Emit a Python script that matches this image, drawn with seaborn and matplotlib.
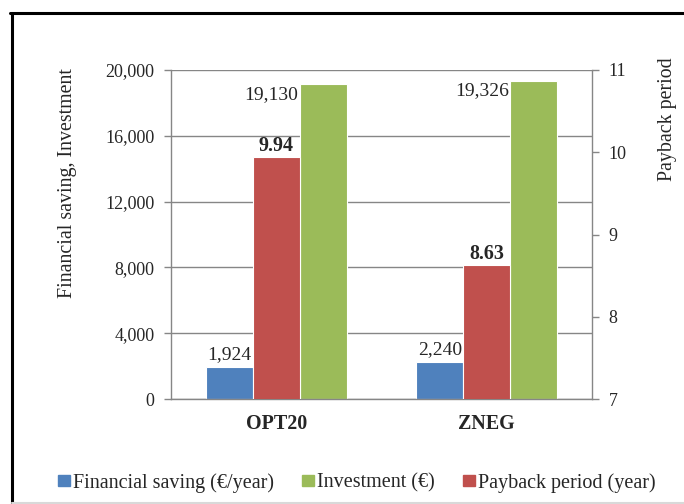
import numpy as np
import pandas as pd
import matplotlib
matplotlib.use("Agg")
import matplotlib.pyplot as plt
import seaborn as sns
from matplotlib.ticker import FuncFormatter
from matplotlib.patches import Patch
from matplotlib.lines import Line2D

# Data
scenarios = ["OPT20", "ZNEG"]
financial_saving = [1924, 2240]      # €/year
investment = [19130, 19326]          # €
payback_period = [9.94, 8.63]        # year

lab_fs = "Financial saving (€/year)"
lab_inv = "Investment (€)"
lab_pb = "Payback period (year)"
hue_order = [lab_fs, lab_pb, lab_inv]
colors = {lab_fs: "#4F81BD", lab_pb: "#C0504D", lab_inv: "#9BBB59"}

# Long table: payback NaN on the left axis, others NaN on the right axis
rows = []
for i, s in enumerate(scenarios):
    rows.append({"scenario": s, "series": lab_fs, "left": financial_saving[i], "right": np.nan})
    rows.append({"scenario": s, "series": lab_pb, "left": np.nan, "right": payback_period[i]})
    rows.append({"scenario": s, "series": lab_inv, "left": investment[i], "right": np.nan})
df = pd.DataFrame(rows)

sns.set_style("white")
plt.rcParams["font.family"] = ["Liberation Serif", "DejaVu Serif"]

fig = plt.figure(figsize=(6.84, 5.04), dpi=100)
ax = fig.add_axes([171 / 684, 1 - 399 / 504, 421 / 684, 329 / 504])
ax2 = ax.twinx()

grey = "#868686"
bar_kw = dict(x="scenario", hue="series", hue_order=hue_order, palette=colors,
              order=scenarios, width=0.67, errorbar=None, legend=False,
              saturation=1, edgecolor="white", linewidth=0.8)
sns.barplot(data=df, y="left", ax=ax, **bar_kw)
sns.barplot(data=df, y="right", ax=ax2, **bar_kw)

# primary axis
ax.set_ylim(0, 20000)
ax.set_yticks(np.arange(0, 20001, 4000))
ax.yaxis.set_major_formatter(FuncFormatter(lambda v, p: f"{v:,.0f}"))
ax.set_xlim(-0.5, 1.5)
ax.set_xticks([0, 1])
ax.set_xticklabels(scenarios, fontweight="bold", fontsize=14.4)
ax.set_xticks([-0.5, 0.5, 1.5], minor=True)
ax.tick_params(axis="x", which="major", length=0, pad=11)
ax.tick_params(axis="x", which="minor", length=5, color=grey, width=1)
ax.tick_params(axis="y", length=5, color=grey, width=1, labelsize=13, pad=7)
ax.set_xlabel("")
ax.set_ylabel("")
ax.yaxis.grid(True, color=grey, linewidth=1)
ax.set_axisbelow(True)
for side in ["top", "right"]:
    ax.spines[side].set_visible(False)
for side in ["left", "bottom"]:
    ax.spines[side].set_color(grey)
    ax.spines[side].set_linewidth(1)

# secondary axis
ax2.set_ylim(7, 11)
ax2.set_yticks([7, 8, 9, 10, 11])
ax2.tick_params(axis="y", length=5, color=grey, width=1, labelsize=13, pad=7)
ax2.set_ylabel("")
for side in ["top", "left", "bottom"]:
    ax2.spines[side].set_visible(False)
ax2.spines["right"].set_color(grey)
ax2.spines["right"].set_linewidth(1)

ax.text(-0.245, 0.657, "Financial saving, Investment", transform=ax.transAxes,
        rotation=90, ha="center", va="center", fontsize=14.3)
ax.text(1.18, 0.851, "Payback period", transform=ax.transAxes,
        rotation=90, ha="center", va="center", fontsize=14.3)

# value labels
for p in ax.patches:
    h = p.get_height()
    if np.isnan(h) or h == 0:
        continue
    if h > 10000:
        ax.annotate(f"{h:,.0f}", (p.get_x(), h), xytext=(-1, -1),
                    textcoords="offset points", ha="right", va="top", fontsize=14)
    else:
        ax.annotate(f"{h:,.0f}", (p.get_x() + p.get_width() / 2, h), xytext=(0, 3),
                    textcoords="offset points", ha="center", va="bottom", fontsize=14)
for p in ax2.patches:
    h = p.get_height()
    if np.isnan(h) or h == 0:
        continue
    ax2.annotate(f"{h:.2f}", (p.get_x() + p.get_width() / 2, h), xytext=(0, 1),
                 textcoords="offset points", ha="center", va="bottom",
                 fontsize=14.4, fontweight="bold")

# legend
handles = [Patch(color=colors[lab_fs], label=lab_fs),
           Patch(color=colors[lab_inv], label=lab_inv),
           Patch(color=colors[lab_pb], label=lab_pb)]
fig.legend(handles=handles, loc="center", bbox_to_anchor=(357 / 684, 1 - 483 / 504),
           ncol=3, frameon=False, fontsize=14.5, handlelength=0.6, handleheight=0.5,
           handletextpad=0.15, columnspacing=1.4, borderpad=0.2)

# outer frame
fig.add_artist(Line2D([11.5 / 684, 11.5 / 684], [0, 1 - 12.5 / 504], color="black",
                      linewidth=2.2, transform=fig.transFigure))
fig.add_artist(Line2D([10 / 684, 1], [1 - 12.5 / 504, 1 - 12.5 / 504], color="black",
                      linewidth=2.2, transform=fig.transFigure))
fig.add_artist(Line2D([11.5 / 684, 1], [1.5 / 504, 1.5 / 504], color="#d9d9d9",
                      linewidth=1.5, transform=fig.transFigure))

fig.savefig("out.png", dpi=100)
